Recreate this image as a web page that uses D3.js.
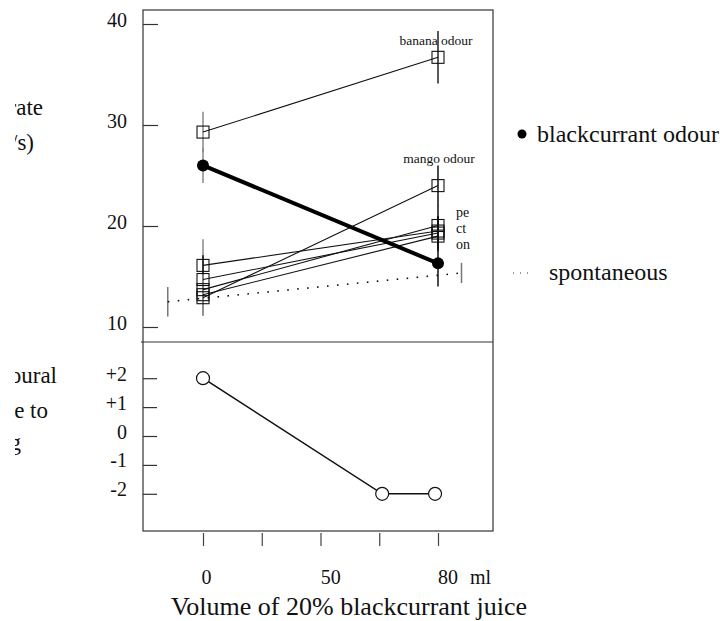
<!DOCTYPE html>
<html><head><meta charset="utf-8">
<script src="https://cdn.jsdelivr.net/npm/d3@7"></script>
<style>
body{margin:0;background:#fff}
text{font-family:"Liberation Serif","Times New Roman",serif;fill:#111}
</style>
</head><body>
<svg id="c" width="726" height="621"></svg>
<script>
// ---- data ----
const volumes = [0, 80];
const bananaRate = [29.3, 36.7], bananaErr = [2.0, 2.6];
const mangoRate = [12.9, 24.0], mangoErr = [1.8, 2.0];
const p1Rate = [16.1, 19.5], p1Err = [2.6, 1.5];
const p2Rate = [14.7, 19.3], p2Err = [2.4, 1.6];
const p3Rate = [13.7, 20.05], p3Err = [1.5, 2.0];
const p4Rate = [13.2, 19.0], p4Err = [2.0, 1.5];
const blackcurrantRate = [26.0, 16.3], blackcurrantErr = [1.75, 2.3];
const spontVolumes = [-12, 88];
const spontRate = [12.5, 15.35], spontErr = [1.45, 1.0];
const behaviourVolumes = [0, 61, 79];
const behaviourScore = [2, -2, -2];
const rateTicks = [10, 20, 30, 40];
const scoreTicks = [2, 1, 0, -1, -2];
const scoreTickLabels = ["+2", "+1", "0", "-1", "-2"];
const volumeTicks = [0, 20, 40, 60, 80];
const volumeTickLabels = ["0", "50", "80"];
const volumeLabelAt = [1.2, 43.5, 83.4];

const svg = d3.select("#c");
const x = d3.scaleLinear().domain([0, 80]).range([203, 438]);
const yTop = d3.scaleLinear().domain([10, 40]).range([327, 24]);
const yBot = d3.scaleLinear().domain([-2, 2]).range([493.8, 378.2]);

const L = 143, R = 493, T = 10, B = 531, MID = 342;
// frame
svg.append("rect").attr("x", L).attr("y", T).attr("width", R - L).attr("height", B - T)
  .attr("fill", "none").attr("stroke", "#333").attr("stroke-width", 1.2);
svg.append("line").attr("x1", L - 2).attr("x2", R).attr("y1", MID).attr("y2", MID)
  .attr("stroke", "#333").attr("stroke-width", 1.2);

// y axes (ticks inward)
const axTop = svg.append("g").attr("transform", `translate(${L},0)`)
  .call(d3.axisLeft(yTop).tickValues(rateTicks).tickSizeInner(-15).tickSizeOuter(0).tickPadding(16));
const axBot = svg.append("g").attr("transform", `translate(${L},0)`)
  .call(d3.axisLeft(yBot).tickValues(scoreTicks).tickSizeInner(-14).tickSizeOuter(0).tickPadding(16)
    .tickFormat((d, i) => scoreTickLabels[i]));
[axTop, axBot].forEach(g => {
  g.select(".domain").remove();
  g.selectAll(".tick line").attr("stroke", "#333").attr("stroke-width", 1.2);
  g.selectAll(".tick text").attr("font-size", 20).attr("dy", "0.1em")
    .attr("font-family", '"Liberation Serif",serif').attr("fill", "#111");
});

// x axis ticks below the box
const axX = svg.append("g").attr("transform", `translate(0,${B + 2})`)
  .call(d3.axisBottom(x).tickValues(volumeTicks).tickSizeInner(13).tickSizeOuter(0).tickFormat(""));
axX.select(".domain").remove();
axX.selectAll(".tick line").attr("stroke", "#444").attr("stroke-width", 1.2);
svg.selectAll(".xlab").data(volumeTickLabels).enter().append("text")
  .attr("x", (d, i) => x(volumeLabelAt[i])).attr("y", 584)
  .attr("text-anchor", "middle").attr("font-size", 20).text(d => d);
svg.append("text").attr("x", 470).attr("y", 584).attr("font-size", 20).text("ml");
svg.append("text").attr("x", 349).attr("y", 615).attr("text-anchor", "middle")
  .attr("font-size", 26).text("Volume of 20% blackcurrant juice");

// left titles, masked at the left as in the source figure
svg.append("defs").append("clipPath").attr("id", "leftclip")
  .append("rect").attr("x", 15).attr("y", 0).attr("width", 120).attr("height", 621);
const leftTitles = [["Heart rate", 43, 115], ["(beats/s)", 34, 150],
  ["Behavioural", 57, 383], ["response to", 48, 418], ["rating", 21, 450]];
svg.append("g").attr("clip-path", "url(#leftclip)")
  .selectAll("text").data(leftTitles).enter().append("text")
  .attr("x", d => d[1]).attr("y", d => d[2]).attr("text-anchor", "end")
  .attr("font-size", 23).text(d => d[0]);

// series with squares
const squareSeries = [
  {v: bananaRate, e: bananaErr, ec: ["#888", "#222"]},
  {v: mangoRate, e: mangoErr, ec: ["#888", "#111"]},
  {v: p1Rate, e: p1Err, ec: ["#888", "#111"]},
  {v: p2Rate, e: p2Err, ec: ["#111", "#111"]},
  {v: p3Rate, e: p3Err, ec: ["#888", "#111"]},
  {v: p4Rate, e: p4Err, ec: ["#888", "#111"]}
];
const errG = svg.append("g");
function errBar(xv, v, e, col, w) {
  errG.append("line").attr("x1", x(xv)).attr("x2", x(xv))
    .attr("y1", yTop(v + e)).attr("y2", yTop(v - e))
    .attr("stroke", col).attr("stroke-width", w || 1.5);
}
squareSeries.forEach(s => volumes.forEach((xv, i) => errBar(xv, s.v[i], s.e[i], s.ec[i], 1.5)));
volumes.forEach((xv, i) => errBar(xv, blackcurrantRate[i], blackcurrantErr[i], i ? "#111" : "#888", 1.5));
spontVolumes.forEach((xv, i) => errBar(xv, spontRate[i], spontErr[i], "#777", 1.5));

const line = d3.line().x(d => x(d[0])).y(d => yTop(d[1]));
// spontaneous dotted
svg.append("path").attr("d", line(spontVolumes.map((xv, i) => [xv, spontRate[i]])))
  .attr("fill", "none").attr("stroke", "#111").attr("stroke-width", 1.6)
  .attr("stroke-dasharray", "1.6,8.4");

squareSeries.forEach(s => {
  svg.append("path").attr("d", line(volumes.map((xv, i) => [xv, s.v[i]])))
    .attr("fill", "none").attr("stroke", "#111").attr("stroke-width", 1.1);
  svg.selectAll(null).data(volumes).enter().append("rect")
    .attr("x", (d, i) => x(d) - 6).attr("y", (d, i) => yTop(s.v[i]) - 6)
    .attr("width", 12).attr("height", 12)
    .attr("fill", "none").attr("stroke", "#111").attr("stroke-width", 1.1);
});

// blackcurrant
svg.append("path").attr("d", line(volumes.map((xv, i) => [xv, blackcurrantRate[i]])))
  .attr("fill", "none").attr("stroke", "#000").attr("stroke-width", 4);
svg.selectAll(null).data(volumes).enter().append("circle")
  .attr("cx", d => x(d)).attr("cy", (d, i) => yTop(blackcurrantRate[i])).attr("r", 6)
  .attr("fill", "#000");

// labels in plot
svg.append("text").attr("x", x(80) - 2).attr("y", 45).attr("text-anchor", "middle")
  .attr("font-size", 13.5).text("banana odour");
svg.append("text").attr("x", x(80) + 1).attr("y", 163).attr("text-anchor", "middle")
  .attr("font-size", 13.5).text("mango odour");
[["pe", 217], ["ct", 233], ["on", 249]].forEach(d =>
  svg.append("text").attr("x", 456).attr("y", d[1]).attr("font-size", 14).text(d[0]));

// lower panel
const lineB = d3.line().x(d => x(d[0])).y(d => yBot(d[1]));
svg.append("path").attr("d", lineB(behaviourVolumes.map((xv, i) => [xv, behaviourScore[i]])))
  .attr("fill", "none").attr("stroke", "#111").attr("stroke-width", 1.6);
svg.selectAll(null).data(behaviourVolumes).enter().append("circle")
  .attr("cx", d => x(d)).attr("cy", (d, i) => yBot(behaviourScore[i])).attr("r", 6.5)
  .attr("fill", "#fff").attr("stroke", "#111").attr("stroke-width", 1.2);

// legend
svg.append("circle").attr("cx", 522).attr("cy", 134).attr("r", 4.5).attr("fill", "#000");
svg.append("text").attr("x", 537).attr("y", 142).attr("font-size", 24).text("blackcurrant odour");
svg.append("line").attr("x1", 513).attr("x2", 533).attr("y1", 273).attr("y2", 273)
  .attr("stroke", "#333").attr("stroke-width", 1.2).attr("stroke-dasharray", "1,6");
svg.append("text").attr("x", 549).attr("y", 280).attr("font-size", 24).text("spontaneous");
</script>
</body></html>
